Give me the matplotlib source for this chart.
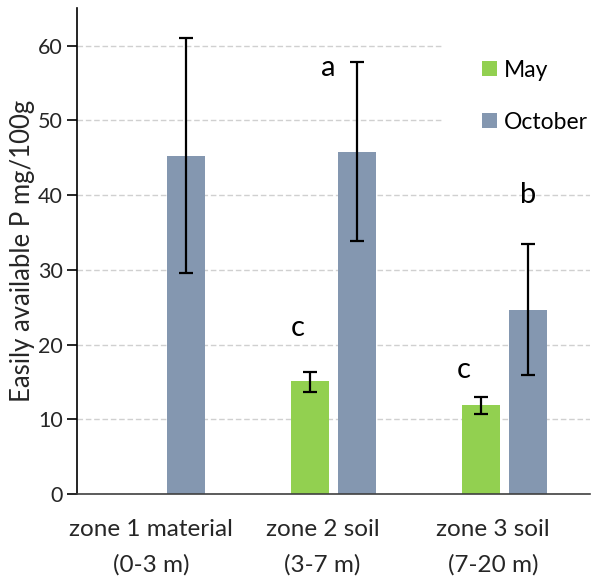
import matplotlib
matplotlib.use("Agg")
import matplotlib.pyplot as plt
import numpy as np

plt.rcParams['font.family'] = ['Lato', 'DejaVu Sans']

zones = ["zone 1 material\n(0-3 m)", "zone 2 soil\n(3-7 m)", "zone 3 soil\n(7-20 m)"]
may_vals = [np.nan, 15.1, 11.9]
may_lo = [np.nan, 13.7, 10.7]
may_hi = [np.nan, 16.3, 13.0]
oct_vals = [45.2, 45.7, 24.6]
oct_lo = [29.6, 33.8, 15.9]
oct_hi = [61.0, 57.8, 33.4]
letters = ["c", "a", "c", "b"]
letter_x = [0.79, 0.97, 1.76, 2.14]
letter_y = [22.2, 57.0, 16.6, 40.0]

green = "#92D050"
blue = "#8497B0"

fig = plt.figure(figsize=(5.97, 5.8), dpi=100)
ax = fig.add_axes([0.129, 0.148, 0.859, 0.838])

x = np.arange(len(zones))
w = 0.222
off = 0.137

may_err = [np.array(may_vals) - np.array(may_lo), np.array(may_hi) - np.array(may_vals)]
oct_err = [np.array(oct_vals) - np.array(oct_lo), np.array(oct_hi) - np.array(oct_vals)]

ax.bar(x - off, may_vals, w, color=green, label="May", zorder=2)
ax.bar(x + off, oct_vals, w, color=blue, label="October", zorder=2)
ax.errorbar(x - off, may_vals, yerr=may_err, fmt="none", ecolor="black",
            elinewidth=1.6, capsize=4.7, capthick=1.6, zorder=3)
ax.errorbar(x + off, oct_vals, yerr=oct_err, fmt="none", ecolor="black",
            elinewidth=1.6, capsize=4.7, capthick=1.6, zorder=3)

for t, lx, ly in zip(letters, letter_x, letter_y):
    ax.text(lx, ly, t, ha="center", va="center", fontsize=21, zorder=4)

ax.set_xlim(-0.5, 2.5)
ax.set_ylim(0, 65)
ax.set_yticks(range(0, 61, 10))
# category labels sit a little left of the bar groups in the original
ax.set_xticks(x - 0.065)
ax.set_xticklabels(zones, fontsize=17.5, color="#262626", linespacing=1.8)
ax.tick_params(axis="x", length=0, pad=18)
ax.tick_params(axis="y", length=7, width=1.2, labelsize=15.5, labelcolor="#262626", pad=3)
ax.yaxis.grid(True, linestyle=(0, (4, 2)), color="#d0d0d0", linewidth=1, zorder=0)
ax.set_axisbelow(True)
ax.spines["top"].set_visible(False)
ax.spines["right"].set_visible(False)
ax.spines["left"].set_linewidth(1.2)
ax.spines["bottom"].set_linewidth(1.2)
ax.spines["bottom"].set_color("#404040")
ax.set_ylabel("Easily available P mg/100g", fontsize=18.5, color="#262626", labelpad=2)

leg = ax.legend(loc="upper left", bbox_to_anchor=(0.69, 1.0), fontsize=16.5,
                frameon=True, fancybox=False, edgecolor="none", facecolor="white",
                framealpha=1, handlelength=0.65, handleheight=0.65, handletextpad=0.3,
                labelspacing=1.35, borderpad=1.75)
leg.set_zorder(5)

fig.savefig("out.png", dpi=100)
